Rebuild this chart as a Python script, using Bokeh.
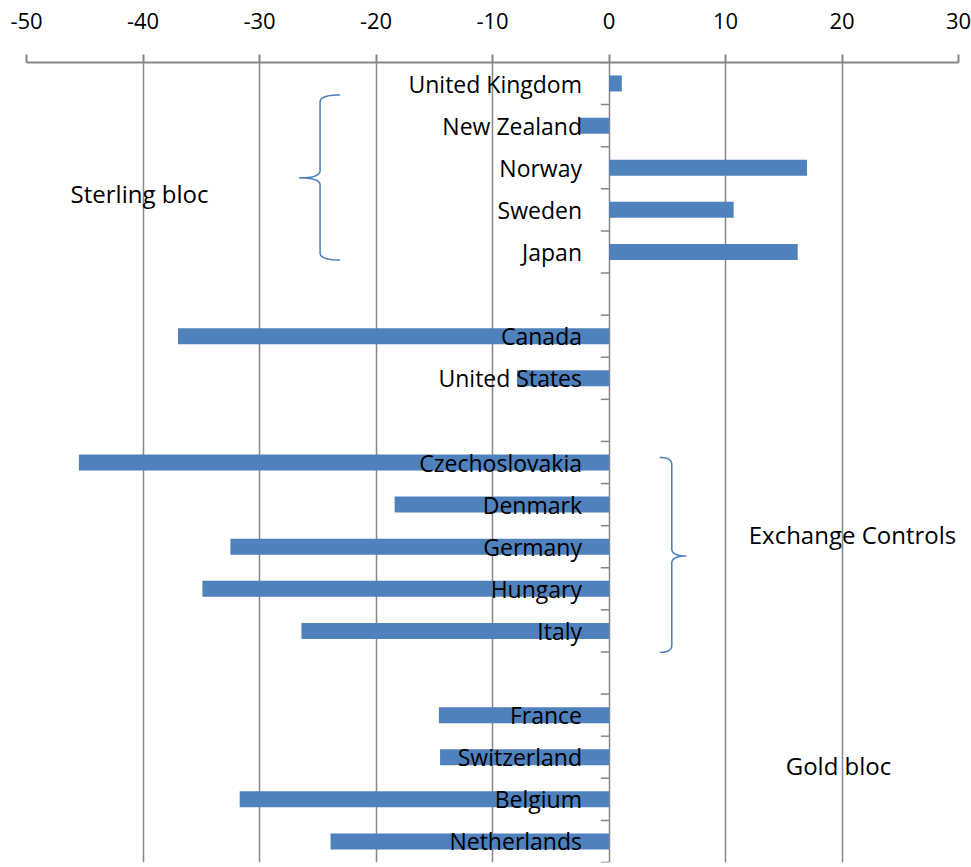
import numpy as np
from bokeh.plotting import figure
from bokeh.models import Range1d, Label, FixedTicker, ColumnDataSource
from bokeh.core.properties import value
from bokeh.embed import file_html
from bokeh.resources import INLINE

# Slots from top to bottom ("" = empty gap category)
slots = ["United Kingdom", "New Zealand", "Norway", "Sweden", "Japan", "",
         "Canada", "United States", "",
         "Czechoslovakia", "Denmark", "Germany", "Hungary", "Italy", "",
         "France", "Switzerland", "Belgium", "Netherlands"]
changes = [1.1, -2.6, 17.0, 10.7, 16.2, None,
           -37.0, -7.9, None,
           -45.5, -18.4, -32.5, -34.9, -26.4, None,
           -14.6, -14.5, -31.7, -23.9]
x_ticks = [-50, -40, -30, -20, -10, 0, 10, 20, 30]
x_tick_labels = ["-50", "-40", "-30", "-20", "-10", "0", "10", "20", "30"]

groups = [
    # text, label x, label y, brace (x_end, x_spine, x_tip, y_top, y_bot, y_tip) or None
    ("Sterling bloc", -40.3, 2.6, (-23.1, -24.8, -26.6, 0.27, 4.19, 2.24)),
    ("Exchange Controls", 20.9, 10.72, (4.36, 5.39, 6.64, 8.88, 13.51, 11.22)),
    ("Gold bloc", 19.7, 16.2, None),
]

FONT = "Open Sans"
GRAY = "#868686"
BLUE = "#4F81BD"

pos = [i for i, s in enumerate(slots) if s]
names = [slots[i] for i in pos]
vals = [changes[i] for i in pos]
src = ColumnDataSource(dict(y=pos, name=names, v=vals, zero=[0] * len(pos)))

n = len(slots)
p = figure(width=971, height=867,
           x_range=Range1d(x_ticks[0], x_ticks[-1]),
           y_range=Range1d(n - 0.5, -0.5),
           x_axis_location="above", y_axis_location=None,
           output_backend="svg", toolbar_location=None,
           min_border_left=26, min_border_right=13,
           min_border_top=62, min_border_bottom=5)
p.outline_line_color = None
p.background_fill_color = "white"

ax = p.xaxis[0]
ax.ticker = FixedTicker(ticks=x_ticks)
ax.major_label_overrides = dict(zip(x_ticks, x_tick_labels))
ax.axis_line_color = GRAY
ax.axis_line_width = 2
ax.major_tick_line_color = GRAY
ax.major_tick_line_width = 2
ax.major_tick_out = 8
ax.major_tick_in = 0
ax.minor_tick_line_color = None
ax.major_label_text_font = FONT
ax.major_label_text_font_size = "22px"
ax.major_label_text_color = "black"
ax.major_label_standoff = 26

p.xgrid.grid_line_color = GRAY
p.xgrid.grid_line_width = 1.5
p.ygrid.visible = False

# y-axis tick marks at category boundaries (axis crosses at 0)
bounds = [i - 0.5 for i in range(n + 1)]
p.segment(x0=[-0.7] * len(bounds), x1=[0] * len(bounds), y0=bounds, y1=bounds,
          line_color=GRAY, line_width=1.5)

p.hbar(y="y", left="zero", right="v", height=0.38, source=src,
       fill_color=BLUE, line_color=None)

p.text(x="zero", y="y", text="name", source=src, x_offset=-27,
       text_align="right", text_baseline="middle",
       text_font=value(FONT), text_font_size="23px", text_color="black")


def quad(p0, c, p1, k=12):
    t = np.linspace(0, 1, k)
    x = (1 - t) ** 2 * p0[0] + 2 * (1 - t) * t * c[0] + t ** 2 * p1[0]
    y = (1 - t) ** 2 * p0[1] + 2 * (1 - t) * t * c[1] + t ** 2 * p1[1]
    return list(x), list(y)


for text, lx, ly, br in groups:
    p.add_layout(Label(x=lx, y=ly, text=text, text_align="center",
                       text_baseline="middle", text_font=FONT,
                       text_font_size="24px", text_color="black"))
    if br:
        xe, xs, xt, yt, yb, ym = br
        r = 0.17
        xs_all, ys_all = [], []
        for seg in [quad((xe, yt), (xs, yt), (xs, yt + r)),
                    ([xs, xs], [yt + r, ym - r]),
                    quad((xs, ym - r), (xs, ym), (xt, ym)),
                    quad((xt, ym), (xs, ym), (xs, ym + r)),
                    ([xs, xs], [ym + r, yb - r]),
                    quad((xs, yb - r), (xs, yb), (xe, yb))]:
            xs_all += list(seg[0])
            ys_all += list(seg[1])
        p.line(xs_all, ys_all, line_color="#4A7EBB", line_width=1.5)

open("out.html", "w").write(file_html(p, INLINE))
